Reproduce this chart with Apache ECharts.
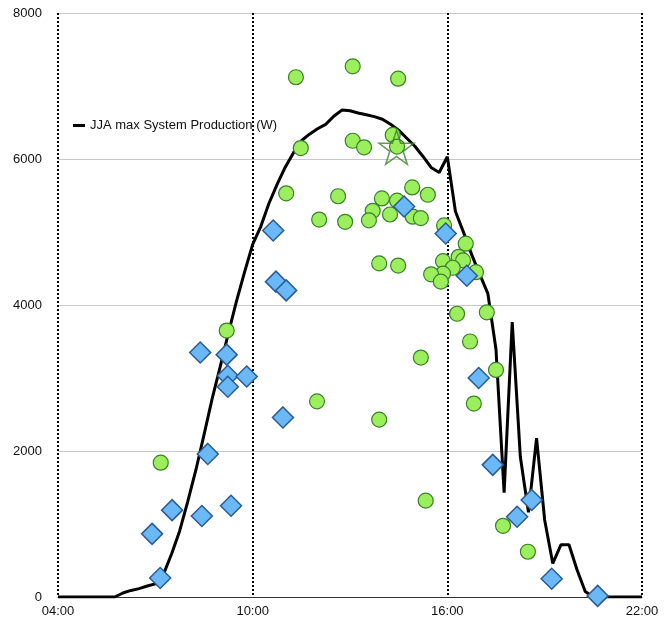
<!DOCTYPE html>
<html>
<head>
<meta charset="utf-8">
<style>
  html, body { margin: 0; padding: 0; background: #fff; }
  #chart { width: 669px; height: 618px; }
</style>
<script src="https://cdn.jsdelivr.net/npm/echarts@6/dist/echarts.min.js"></script>
</head>
<body>
<div id="chart"></div>
<script>
// Summer (JJA) maximum system production, sampled every 15 minutes from 04:00
const lineStart = '04:00';
const lineStepMinutes = 15;
const maxProduction = [
  0, 0, 0, 0, 0, 0, 0, 0,
  55, 90, 115, 150, 180, 310, 590, 905,
  1310, 1740, 2220, 2715, 3155, 3610, 4050, 4450,
  4830, 5075, 5390, 5650, 5885, 6080, 6250, 6340,
  6415, 6475, 6585, 6670, 6660, 6630, 6605, 6580,
  6545, 6475, 6395, 6285, 6175, 6035, 5885, 5815,
  6030, 5280, 4995, 4690, 4420, 4155, 3390, 1430,
  3765, 1920, 1160, 2175, 1055, 460, 715, 715,
  370, 75, 0, 0, 0, 0, 0, 0, 0
];

// Daily peaks (green circles): time of peak and watts
const peakTimes = [
  '11:20', '11:29', '11:02', '12:03', '12:38', '12:51', '13:05', '14:29',
  '13:05', '13:26', '14:19', '14:27', '14:55', '15:24', '13:59', '14:27',
  '13:42', '13:35', '14:14', '14:56', '15:11', '15:54', '16:34', '16:21',
  '16:29', '15:52', '16:10', '15:52', '15:30', '15:48', '16:53', '13:54',
  '14:29', '16:18', '17:13', '16:42', '15:11', '17:30', '16:49', '13:54',
  '15:20', '17:43', '18:29', '09:12', '07:10', '11:59'
];
const peakWatts = [
  7120, 6150, 5530, 5170, 5490, 5140, 7270, 7100,
  6250, 6160, 6330, 6170, 5610, 5510, 5460, 5430,
  5290, 5160, 5240, 5210, 5190, 5090, 4840, 4660,
  4610, 4600, 4510, 4430, 4420, 4320, 4450, 4570,
  4540, 3880, 3900, 3500, 3280, 3110, 2650, 2430,
  1320, 975, 620, 3650, 1840, 2680
];

// Other readings (blue diamonds)
const otherTimes = [
  '10:38', '10:43', '11:02', '14:40', '15:57', '16:36', '16:58', '17:24',
  '18:36', '18:09', '19:13', '20:38', '08:23', '09:12', '09:14', '09:14',
  '09:49', '10:56', '08:37', '07:31', '06:54', '08:26', '09:20', '07:09'
];
const otherWatts = [
  5020, 4320, 4200, 5350, 4980, 4400, 3000, 1810,
  1330, 1100, 250, 15, 3350, 3320, 3030, 2880,
  3020, 2460, 1960, 1190, 865, 1110, 1250, 260
];

// Record peak (star)
const recordTime = ['14:26'];
const recordWatts = [6160];

const xTickLabels = ['04:00', '10:00', '16:00', '22:00'];
const yTicks = [0, 2000, 4000, 6000, 8000];

// x axis runs in hours after 04:00 so ticks land on 0, 6, 12, 18
function toHours(hhmm) {
  const [h, m] = hhmm.split(':').map(Number);
  return h + m / 60 - 4;
}
const startHours = toHours(lineStart);

const lineData = maxProduction.map((v, i) => [startHours + i * lineStepMinutes / 60, v]);
const peakData = peakTimes.map((t, i) => [toHours(t), peakWatts[i]]);
const otherData = otherTimes.map((t, i) => [toHours(t), otherWatts[i]]);
const recordData = recordTime.map((t, i) => [toHours(t), recordWatts[i]]);

const starPath = 'path://M50,0 L61.8,36.2 L100,36.2 L69.1,58.8 L80.9,95.1 L50,72.7 L19.1,95.1 L30.9,58.8 L0,36.2 L38.2,36.2 Z';

const chart = echarts.init(document.getElementById('chart'), null, { renderer: 'canvas' });
chart.setOption({
  animation: false,
  backgroundColor: '#ffffff',
  textStyle: { fontFamily: 'Liberation Sans, Arial, sans-serif' },
  grid: { left: 58, right: 27, top: 13, bottom: 21, outerBoundsMode: 'none' },
  legend: {
    show: true,
    left: 68,
    top: 114,
    data: [{ name: 'JJA max System Production (W)', icon: 'rect' }],
    itemWidth: 12,
    itemHeight: 3,
    itemGap: 8,
    textStyle: { fontSize: 13, color: '#111', fontFamily: 'Liberation Sans, Arial, sans-serif' }
  },
  xAxis: {
    type: 'value',
    min: 0,
    max: 18,
    interval: 6,
    axisLine: { show: true, onZero: false, lineStyle: { color: '#333', width: 1 } },
    axisTick: { show: false },
    axisLabel: {
      margin: 8,
      fontSize: 13,
      color: '#111',
      formatter: v => xTickLabels[Math.round(v / 6)]
    },
    splitLine: { show: true, lineStyle: { color: '#000', type: [2, 2], width: 2 } }
  },
  yAxis: {
    type: 'value',
    min: yTicks[0],
    max: yTicks[yTicks.length - 1],
    interval: 2000,
    axisLine: { show: false },
    axisTick: { show: false },
    axisLabel: { margin: 16, fontSize: 13, color: '#111', formatter: v => String(v) },
    splitLine: { show: true, lineStyle: { color: '#c8c8c8', width: 1 } }
  },
  series: [
    {
      name: 'JJA max System Production (W)',
      type: 'line',
      data: lineData,
      showSymbol: false,
      symbol: 'none',
      lineStyle: { color: '#000', width: 3 },
      itemStyle: { color: '#000' },
      z: 2
    },
    {
      name: 'Daily peak',
      type: 'scatter',
      data: peakData,
      symbol: 'circle',
      symbolSize: 15,
      itemStyle: { color: '#9cef5c', borderColor: '#3c7f2a', borderWidth: 1.2, opacity: 1 },
      z: 3
    },
    {
      name: 'Other readings',
      type: 'scatter',
      data: otherData,
      symbol: 'diamond',
      symbolSize: [21, 21],
      itemStyle: { color: '#6bb8f6', borderColor: '#2a5c93', borderWidth: 1.5, opacity: 1 },
      z: 4
    },
    {
      name: 'Record',
      type: 'scatter',
      data: recordData,
      symbol: starPath,
      symbolSize: [35, 34],
      itemStyle: { color: 'rgba(0,0,0,0)', borderColor: '#3c7f2a', borderWidth: 1.5 },
      z: 5
    }
  ]
});
</script>
</body>
</html>
